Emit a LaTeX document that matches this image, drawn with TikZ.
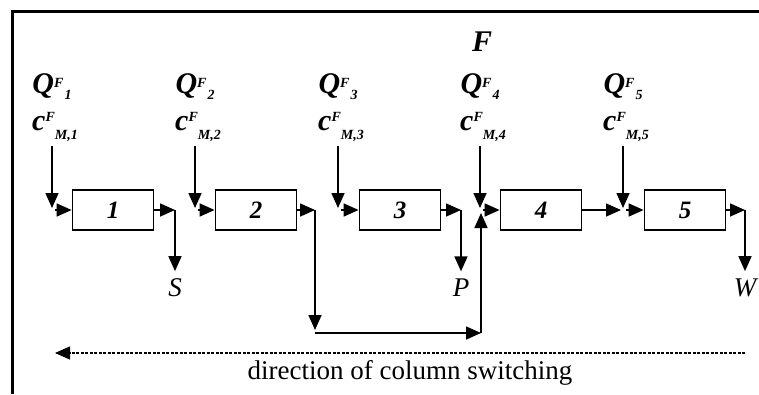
\documentclass[tikz,border=0pt]{standalone}
\usepackage{fontspec}
\setmainfont{Liberation Serif}
\usetikzlibrary{arrows.meta, positioning}

\newcommand{\labfont}{\fontsize{30}{30}\selectfont\bfseries\itshape}
\newcommand{\idxfont}{\fontsize{14}{14}\selectfont\bfseries\itshape}
\newcommand{\qflow}[1]{{\labfont Q\raisebox{0.22em}{\idxfont F}\hspace{1pt}\raisebox{-0.2em}{\idxfont #1}}}
\newcommand{\cfeed}[1]{{\labfont c\raisebox{0.3em}{\idxfont F}\raisebox{-0.3em}{\idxfont M,#1}}}

\begin{document}
\begin{tikzpicture}[x=1pt, y=-1pt, line width=1.6pt,
  col/.style={draw, rectangle, line width=1.8pt, minimum width=81pt, minimum height=40pt, inner sep=0pt,
    font=\fontsize{25}{25}\selectfont\bfseries\itshape},
  arr/.style={-{Triangle[length=15pt,width=13pt]}},
  lab/.style={inner sep=0pt},
  outlab/.style={inner sep=0pt, font=\fontsize{27}{27}\selectfont\itshape}]
  \useasboundingbox (0,0) rectangle (759,394);
  % frame
  \draw[line width=3pt] (12,394) -- (12,11) -- (759,11);

  % Columns
  \node[col] (b1) at (113,210) {1};
  \node[col] (b2) at (256,210) {2};
  \node[col] (b3) at (400,210) {3};
  \node[col] (b4) at (541,210) {4};
  \node[col] (b5) at (685,210) {5};

  % Feed
  \node[lab] (F) at (482,42) {\labfont F};
  \foreach \i/\x in {1/52,2/195,3/338,4/480,5/623} {
    \node[lab] (q\i) at (\x,87) {\qflow{\i}};
    \node[lab] (c\i) at (\x+3,127) {\cfeed{\i}};
    \coordinate (j\i) at (\x,210);
    \draw[arr, shorten >=2pt] (c\i.south -| j\i) ++(0,4) -- (j\i);
    \draw[arr] (j\i) ++(3,0) -- (b\i.west);
  }

  % Outlets
  \coordinate (o1) at (175,210);
  \coordinate (o2) at (315,210);
  \coordinate (o3) at (461,210);
  \coordinate (o5) at (745,210);
  \node[outlab] (S) at (175,288) {S};
  \node[outlab] (P) at (461,288) {P};
  \node[outlab] (W) at (745,288) {W};
  \draw[arr] (b1.east) -- (o1);
  \draw[arr, shorten >=7pt] (o1) -- (S.north);
  \draw[arr] (b3.east) -- (o3);
  \draw[arr, shorten >=7pt] (o3) -- (P.north);
  \draw[arr] (b5.east) -- (o5);
  \draw[arr, shorten >=7pt] (o5) -- (W.north);
  \draw[arr, shorten >=2pt] (b4.east) -- (j5);

  % Recycle from column 2 to column 4
  \coordinate (r1) at (315,333);
  \coordinate (r2) at (481,333);
  \draw[arr] (b2.east) -- (o2);
  \draw[arr, shorten >=3pt] (o2) -- (r1);
  \draw[arr] (r1) -- (r2);
  \draw[arr, shorten >=3pt] (r2) -- (j4 -| r2);

  % Switching direction
  \coordinate (d1) at (745,353);
  \coordinate (d0) at (55,353);
  \draw[arr, line width=1.3pt, dash pattern=on 3pt off 1.5pt] (d1) -- (d0);
  \node[inner sep=0pt, font=\fontsize{27}{27}\selectfont] (sw) at (410,373) {direction of column switching};
\end{tikzpicture}
\end{document}
